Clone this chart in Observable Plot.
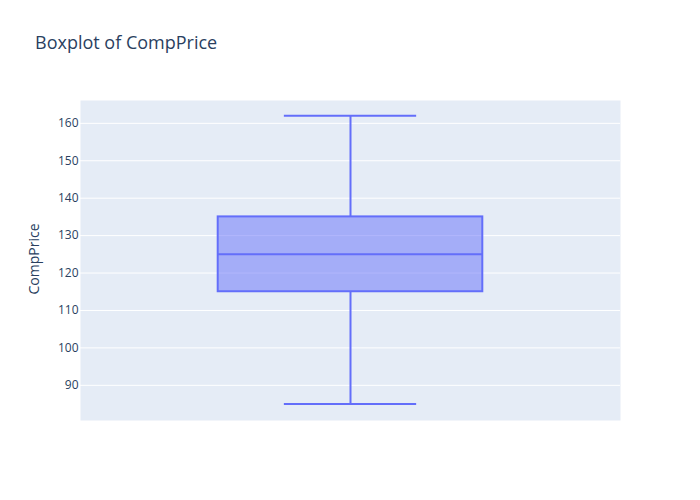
<!DOCTYPE html>
<html>
<head>
<meta charset="utf-8">
<script src="https://cdn.jsdelivr.net/npm/d3@7"></script>
<script src="https://cdn.jsdelivr.net/npm/@observablehq/plot@0.6"></script>
<style>
  html, body { margin: 0; padding: 0; background: white; }
  #wrap { position: relative; width: 700px; height: 500px; font-family: "Open Sans", sans-serif; color: #2a3f5f; }
  #title { position: absolute; left: 35px; top: 30px; font-size: 18px; white-space: nowrap; }
  #ylabel { position: absolute; left: 33px; top: 259px; font-size: 14px; white-space: nowrap;
            transform: translate(-50%, -50%) rotate(-90deg); }
</style>
</head>
<body>
<div id="wrap">
  <div id="chart"></div>
  <div id="title">Boxplot of CompPrice</div>
  <div id="ylabel">CompPrice</div>
</div>
<script>
// Data (box statistics)
const categories = ["CompPrice"];
const lowerFence = [85];
const q1Values = [115];
const medianValues = [125];
const q3Values = [135];
const upperFence = [162];
const yTicks = [90, 100, 110, 120, 130, 140, 150, 160];

const data = categories.map((c, i) => ({
  c, min: lowerFence[i], q1: q1Values[i], median: medianValues[i], q3: q3Values[i], max: upperFence[i]
}));

const boxHalf = 0.245;
const capHalf = 0.1225;
const lineColor = "#636efa";

const chart = Plot.plot({
  width: 700,
  height: 500,
  marginLeft: 80,
  marginRight: 80,
  marginTop: 100,
  marginBottom: 80,
  style: { fontFamily: "'Open Sans', sans-serif", fontSize: "12px", color: "#2a3f5f", background: "white" },
  x: { axis: null, domain: [-0.5, 0.5] },
  y: { domain: [80.6, 166.1], ticks: yTicks, tickSize: 0, tickPadding: 2, label: null },
  marks: [
    Plot.frame({ fill: "#E5ECF6", stroke: null }),
    Plot.gridY(yTicks, { stroke: "white", strokeOpacity: 1, strokeWidth: 1 }),
    Plot.ruleX(data, { x: () => 0, y1: "min", y2: "q1", stroke: lineColor, strokeWidth: 2 }),
    Plot.ruleX(data, { x: () => 0, y1: "q3", y2: "max", stroke: lineColor, strokeWidth: 2 }),
    Plot.ruleY(data, { y: "min", x1: () => -capHalf, x2: () => capHalf, stroke: lineColor, strokeWidth: 2 }),
    Plot.ruleY(data, { y: "max", x1: () => -capHalf, x2: () => capHalf, stroke: lineColor, strokeWidth: 2 }),
    Plot.rect(data, { x1: () => -boxHalf, x2: () => boxHalf, y1: "q1", y2: "q3",
      fill: lineColor, fillOpacity: 0.5, stroke: lineColor, strokeWidth: 2 }),
    Plot.ruleY(data, { y: "median", x1: () => -boxHalf, x2: () => boxHalf, stroke: lineColor, strokeWidth: 2 })
  ]
});
document.getElementById("chart").appendChild(chart);
</script>
</body>
</html>
